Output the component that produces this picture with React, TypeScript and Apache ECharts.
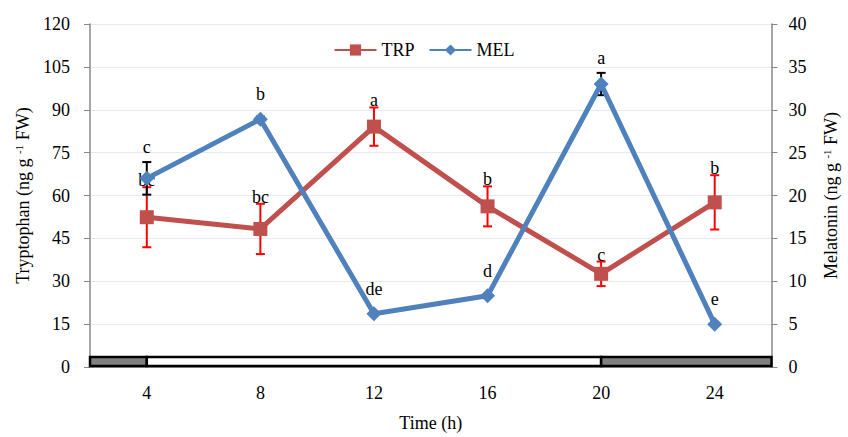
import React, { useEffect, useRef } from "react";
import * as echarts from "echarts";

const hours = [4, 8, 12, 16, 20, 24];
const hourLabels = ["4", "8", "12", "16", "20", "24"];
const trpValues = [52.4, 48.3, 84.1, 56.2, 32.6, 57.6];
const trpErrors = [10.5, 8.8, 6.7, 7.0, 4.3, 9.5];
const trpLetters = ["bc", "bc", "a", "b", "c", "b"];
const melValues = [22.0, 28.9, 6.2, 8.3, 33.0, 5.0];
const melErrors = [1.9, 0.3, 0, 0, 1.3, 0];
const melLetters = ["c", "b", "de", "d", "a", "e"];
// photoperiod: [start hour, end hour, dark (1) / light (0)]
const photoperiod = [
  [2, 4, 1],
  [4, 20, 0],
  [20, 26, 1],
];

const FONT = "'Liberation Serif', 'DejaVu Serif', 'Times New Roman', serif";

export default function App() {
  const ref = useRef<HTMLDivElement>(null);
  useEffect(() => {
    if (!ref.current) return;
    const chart = echarts.init(ref.current, null, { renderer: "svg" });

    const errRender = (color: string, isMel: boolean, letters: string[]) =>
      (params: any, api: any) => {
        const x = api.value(0);
        const y = api.value(1);
        const e = api.value(2);
        const pTop = api.coord([x, y + e]);
        const pBot = api.coord([x, y - e]);
        const pMid = api.coord([x, y]);
        const children: any[] = [];
        if (e > 0) {
          const cap = 4.5;
          children.push(
            { type: "line", shape: { x1: pTop[0], y1: pTop[1], x2: pBot[0], y2: pBot[1] }, style: { stroke: color, lineWidth: 2 } },
            { type: "line", shape: { x1: pTop[0] - cap, y1: pTop[1], x2: pTop[0] + cap, y2: pTop[1] }, style: { stroke: color, lineWidth: 2 } },
            { type: "line", shape: { x1: pBot[0] - cap, y1: pBot[1], x2: pBot[0] + cap, y2: pBot[1] }, style: { stroke: color, lineWidth: 2 } }
          );
        }
        let baseY;
        if (isMel) {
          baseY = Math.min(pMid[1] - 20, pTop[1] - 10);
        } else {
          baseY = pTop[1] - 2;
        }
        children.push({
          type: "text",
          z2: 10,
          style: {
            x: pMid[0],
            y: baseY + 4,
            text: letters[params.dataIndex],
            fill: "#000",
            fontFamily: FONT,
            fontSize: 18,
            align: "center",
            verticalAlign: "bottom",
          },
        });
        return { type: "group", children };
      };

    const supRich = {
      sup: { fontSize: 11, fontFamily: FONT, color: "#000", verticalAlign: "top", padding: [0, 0, 8, 0] },
    };

    const option: any = {
      animation: false,
      textStyle: { fontFamily: FONT },
      grid: { left: 90, right: 75, top: 24, bottom: 65, containLabel: false },
      legend: {
        data: ["TRP", "MEL"],
        top: 36,
        left: "center",
        itemWidth: 42,
        itemHeight: 14,
        itemGap: 14,
        textStyle: { fontFamily: FONT, fontSize: 18, color: "#000" },
      },
      xAxis: [
        {
          type: "category",
          data: hourLabels,
          boundaryGap: true,
          axisLine: { lineStyle: { color: "#888", width: 1.5 } },
          axisTick: { alignWithLabel: true, length: 6, lineStyle: { color: "#888" } },
          axisLabel: { margin: 17, color: "#000", fontFamily: FONT, fontSize: 18 },
          splitLine: { show: false },
          name: "Time (h)",
          nameLocation: "middle",
          nameGap: 47,
          nameTextStyle: { color: "#000", fontFamily: FONT, fontSize: 18 },
        },
        { type: "value", min: 2, max: 26, show: false },
      ],
      yAxis: [
        {
          type: "value",
          min: 0,
          max: 120,
          interval: 15,
          position: "left",
          axisLine: { show: true, lineStyle: { color: "#888", width: 1.5 } },
          axisTick: { show: true, length: 6, lineStyle: { color: "#888" } },
          axisLabel: { margin: 20, color: "#000", fontFamily: FONT, fontSize: 18 },
          splitLine: { show: true, lineStyle: { color: "#e6e9f2", width: 1 } },
          name: "Tryptophan (ng g {sup|-1} FW)",
          nameLocation: "middle",
          nameGap: 58,
          nameTextStyle: { color: "#000", fontFamily: FONT, fontSize: 18, rich: supRich },
        },
        {
          type: "value",
          min: 0,
          max: 40,
          interval: 5,
          position: "right",
          axisLine: { show: true, lineStyle: { color: "#888", width: 1.5 } },
          axisTick: { show: true, length: 6, lineStyle: { color: "#888" } },
          axisLabel: { margin: 17, color: "#000", fontFamily: FONT, fontSize: 18 },
          splitLine: { show: false },
          name: "Melatonin (ng g {sup|-1} FW)",
          nameLocation: "middle",
          nameGap: 50,
          nameTextStyle: { color: "#000", fontFamily: FONT, fontSize: 18, rich: supRich },
        },
      ],
      series: [
        {
          type: "custom",
          name: "photoperiod",
          xAxisIndex: 1,
          yAxisIndex: 0,
          z: 5,
          silent: true,
          data: photoperiod,
          renderItem: (params: any, api: any) => {
            const p0 = api.coord([api.value(0), 0]);
            const p1 = api.coord([api.value(1), 0]);
            const h = 9;
            return {
              type: "rect",
              shape: { x: p0[0], y: p0[1] - h - 1, width: p1[0] - p0[0], height: h },
              style: { fill: api.value(2) ? "#808080" : "#fff", stroke: "#000", lineWidth: 2.5 },
            };
          },
        },
        {
          type: "custom",
          name: "trpErr",
          xAxisIndex: 1,
          yAxisIndex: 0,
          z: 1,
          silent: true,
          data: hours.map((h, i) => [h, trpValues[i], trpErrors[i]]),
          renderItem: errRender("#ff0000", false, trpLetters),
        },
        {
          type: "custom",
          name: "melErr",
          xAxisIndex: 1,
          yAxisIndex: 1,
          z: 1,
          silent: true,
          data: hours.map((h, i) => [h, melValues[i], melErrors[i]]),
          renderItem: errRender("#000", true, melLetters),
        },
        {
          type: "line",
          name: "TRP",
          xAxisIndex: 1,
          yAxisIndex: 0,
          z: 3,
          data: hours.map((h, i) => [h, trpValues[i]]),
          symbol: "rect",
          symbolSize: 14,
          lineStyle: { color: "#c0504d", width: 5 },
          itemStyle: { color: "#c0504d" },
        },
        {
          type: "line",
          name: "MEL",
          xAxisIndex: 1,
          yAxisIndex: 1,
          z: 4,
          data: hours.map((h, i) => [h, melValues[i]]),
          symbol: "diamond",
          symbolSize: 15,
          lineStyle: { color: "#4f81bd", width: 5 },
          itemStyle: { color: "#4f81bd" },
        },
      ],
    };
    chart.setOption(option);
    return () => chart.dispose();
  }, []);
  return (
    <div
      ref={ref}
      style={{ position: "fixed", left: 0, top: 0, width: 848, height: 437, background: "#fff" }}
    />
  );
}
